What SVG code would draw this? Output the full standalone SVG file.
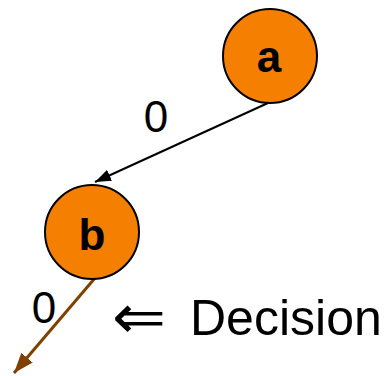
<svg xmlns="http://www.w3.org/2000/svg" width="389" height="376" viewBox="0 0 389 376">
<style>
.node{fill:#f57f00;stroke:#000;stroke-width:2}
.nl{font-family:"Liberation Sans",Arial,sans-serif;font-weight:bold;font-size:44px;text-anchor:middle}
.el{font-family:"Liberation Sans",Arial,sans-serif;font-size:44px;text-anchor:middle}
</style>
<defs>
<marker id="ab" viewBox="0 0 10 10" refX="10" refY="5" markerWidth="8" markerHeight="6" preserveAspectRatio="none" orient="auto" markerUnits="strokeWidth"><path d="M0,0L10,5L0,10z" fill="#000"/></marker>
<marker id="ar" viewBox="0 0 10 10" refX="10" refY="5" markerWidth="6.7" markerHeight="5" preserveAspectRatio="none" orient="auto" markerUnits="strokeWidth"><path d="M0,0L10,5L0,10z" fill="#7f4000"/></marker>
</defs>
<g id="connectors">
<line x1="268" y1="103" x2="95" y2="182" stroke="#000" stroke-width="2" marker-end="url(#ab)"/>
<line x1="95" y1="278" x2="14" y2="373" stroke="#7f4000" stroke-width="3" marker-end="url(#ar)"/>
<text class="el" x="156" y="132">0</text>
<text class="el" x="44" y="323">0</text>
</g>
<g id="a"><circle class="node" cx="270" cy="56" r="47"/><text class="nl" x="269" y="72">a</text></g>
<g id="b"><circle class="node" cx="92" cy="232" r="47"/><text class="nl" x="92" y="250">b</text></g>
<text x="112" y="338" font-family="'DejaVu Sans',sans-serif" font-size="62" textLength="54" lengthAdjust="spacingAndGlyphs">⇐</text>
<text x="190" y="335" font-family="'Liberation Sans',Arial,sans-serif" font-size="50">Decision</text>
</svg>
